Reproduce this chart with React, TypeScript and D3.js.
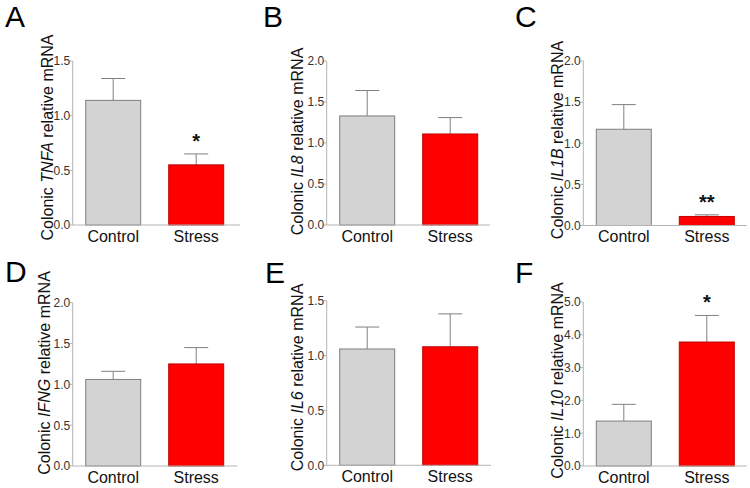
import * as d3 from 'd3'

const panelLetters = ['A', 'B', 'C', 'D', 'E', 'F']
const genes = ['TNFA', 'IL8', 'IL1B', 'IFNG', 'IL6', 'IL10']
const groups = ['Control', 'Stress']

const controlMeans = [1.14, 1.33, 1.17, 1.06, 1.06, 1.37]
const controlSem = [0.2, 0.31, 0.3, 0.1, 0.2, 0.51]
const stressMeans = [0.55, 1.11, 0.11, 1.25, 1.08, 3.78]
const stressSem = [0.1, 0.2, 0.02, 0.2, 0.3, 0.81]
const significance = ['*', '', '**', '', '', '*']

const yMax = [1.5, 2.0, 2.0, 2.0, 1.5, 5.0]
const tickStep = [0.5, 0.5, 0.5, 0.5, 0.5, 1.0]

// where each small chart sits on the page
const layout = [
  { ax: 72.7, top: 61, bottom: 225, end: 240, tx: 46.7, ty: 137.5, lx: 5, ly: 27 },
  { ax: 326.7, top: 61, bottom: 225, end: 490, tx: 296.7, ty: 141.5, lx: 263, ly: 27 },
  { ax: 583.3, top: 61, bottom: 225.5, end: 746.7, tx: 556.7, ty: 140, lx: 515, ly: 27 },
  { ax: 72.7, top: 302.7, bottom: 466, end: 237.3, tx: 44, ty: 373, lx: 5, ly: 282 },
  { ax: 326.7, top: 300.7, bottom: 465.3, end: 491, tx: 296.7, ty: 377.5, lx: 265, ly: 283 },
  { ax: 583.3, top: 302, bottom: 466, end: 746.7, tx: 556.7, ty: 380.5, lx: 515, ly: 283 }
]

const font = '"Liberation Sans", Arial, sans-serif'
const axisColor = '#b4b4b4'
const errColor = '#808080'
const fills = ['#d3d3d3', '#ff0000']
const strokes = ['#7f7f7f', '#c00000']

function Panel({ i }: { i: number }) {
  const l = layout[i]
  const y = d3.scaleLinear().domain([0, yMax[i]]).range([l.bottom, l.top])
  const x = d3.scaleBand()
    .domain(groups)
    .range([l.ax + 13, l.ax + 13 + 138])
    .paddingInner(28 / 83)
    .paddingOuter(0)
  const ticks = d3.range(0, yMax[i] + 1e-9, tickStep[i])
  const means = [controlMeans[i], stressMeans[i]]
  const sems = [controlSem[i], stressSem[i]]
  const bw = x.bandwidth()
  const capW = 24

  return (
    <g>
      <text x={l.lx} y={l.ly} fontFamily={font} fontSize={30} fill="#000">
        {panelLetters[i]}
      </text>
      <text
        transform={`translate(${l.tx + 6}, ${l.ty}) rotate(-90)`}
        textAnchor="middle"
        fontFamily={font}
        fontSize={16}
        fill="#111"
      >
        <tspan>Colonic </tspan>
        <tspan fontStyle="italic">{genes[i]}</tspan>
        <tspan> relative mRNA</tspan>
      </text>

      {groups.map((g, j) => {
        const cx = x(g)! + bw / 2
        const yTop = y(means[j])
        const yErr = y(means[j] + sems[j])
        return (
          <g key={g}>
            <line x1={cx} x2={cx} y1={yTop} y2={yErr} stroke={errColor} strokeWidth={1} />
            <line x1={cx - capW / 2} x2={cx + capW / 2} y1={yErr} y2={yErr} stroke={errColor} strokeWidth={1} />
            <rect
              x={x(g)}
              y={yTop}
              width={bw}
              height={l.bottom - yTop}
              fill={fills[j]}
              stroke={strokes[j]}
              strokeWidth={1}
            />
            <text
              x={cx}
              y={l.bottom + 16.5}
              textAnchor="middle"
              fontFamily={font}
              fontSize={16}
              fill="#111"
            >
              {g}
            </text>
            {j === 1 && significance[i] && (
              <text
                x={cx}
                y={yErr - 6}
                textAnchor="middle"
                fontFamily={font}
                fontSize={20}
                fontWeight="bold"
                fill="#111"
              >
                {significance[i]}
              </text>
            )}
          </g>
        )
      })}

      <line x1={l.ax} x2={l.ax} y1={l.top} y2={l.bottom} stroke={axisColor} strokeWidth={1} />
      <line x1={l.ax} x2={l.end} y1={l.bottom} y2={l.bottom} stroke={axisColor} strokeWidth={1} />
      {ticks.map(t => (
        <g key={t} transform={`translate(0, ${y(t)})`}>
          <line x1={l.ax - 3} x2={l.ax} stroke={axisColor} strokeWidth={1} />
          <text
            x={l.ax - 2.5}
            dy="0.36em"
            textAnchor="end"
            fontFamily={font}
            fontSize={12}
            fill="#333"
          >
            {d3.format('.1f')(t)}
          </text>
        </g>
      ))}
    </g>
  )
}

export default function App() {
  return (
    <svg
      width={750}
      height={488}
      viewBox="0 0 750 488"
      style={{ position: 'absolute', left: 0, top: 0, background: '#fff', display: 'block' }}
    >
      <rect width={750} height={488} fill="#fff" />
      {panelLetters.map((_, i) => <Panel key={i} i={i} />)}
    </svg>
  )
}
